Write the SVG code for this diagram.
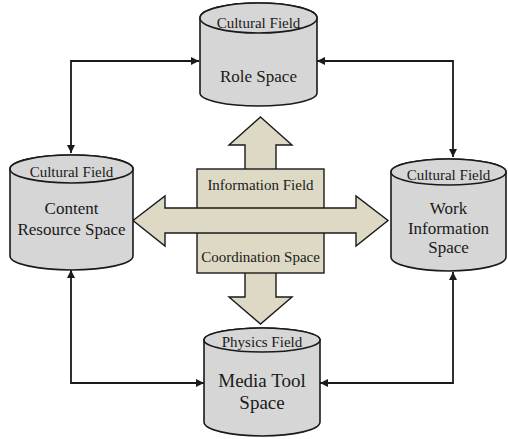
<svg xmlns="http://www.w3.org/2000/svg" width="508" height="439" viewBox="0 0 508 439">
<defs>
<style>
.cyl{fill:#d6d6d6;stroke:#1a1a1a;stroke-width:1.6}
.arr{fill:#ddd9c4;stroke:#1a1a1a;stroke-width:1.4;stroke-linejoin:miter}
.con{fill:none;stroke:#1a1a1a;stroke-width:1.8}
text{font-family:"Liberation Serif","Times New Roman",serif;fill:#1a1a1a;text-anchor:middle}
.s15{font-size:15px}
.s17{font-size:17px}
.s19{font-size:19px}
</style>
<marker id="ah" viewBox="0 0 10 10" refX="10" refY="5" markerWidth="10" markerHeight="8" markerUnits="userSpaceOnUse" orient="auto-start-reverse">
<path d="M0,0 L10,5 L0,10 Z" fill="#1a1a1a"/>
</marker>
</defs>
<g id="connectors">
<path class="con" d="M71,153 V61 H199" marker-start="url(#ah)" marker-end="url(#ah)"/>
<path class="con" d="M317,61 H453 V157" marker-start="url(#ah)" marker-end="url(#ah)"/>
<path class="con" d="M71,270 V383 H204" marker-start="url(#ah)" marker-end="url(#ah)"/>
<path class="con" d="M320,383 H453 V272" marker-start="url(#ah)" marker-end="url(#ah)"/>
</g>
<g id="center-arrows">
<polygon class="arr" points="260.5,117 292,145 276,145 276,171 245,171 245,145 229,145"/>
<polygon class="arr" points="245,271 276,271 276,297 292,297 260.5,324 229,297 245,297"/>
<rect class="arr" x="197" y="169" width="127" height="104"/>
<polygon class="arr" points="133,220.5 165,196 165,208 356,208 356,196 388,220.5 356,246 356,233 165,233 165,246"/>
<text class="s15" x="260.5" y="190">Information Field</text>
<text class="s15" x="260.5" y="262">Coordination Space</text>
</g>
<g id="role-space">
<path class="cyl" d="M200,18 V93 A58.5,13 0 0 0 317,93 V18 A58.5,15 0 0 0 200,18 Z"/>
<ellipse class="cyl" cx="258.5" cy="18" rx="58.5" ry="15"/>
<text class="s15" x="258.5" y="28">Cultural Field</text>
<text class="s17" x="258.5" y="82">Role Space</text>
</g>
<g id="content-resource-space">
<path class="cyl" d="M10,169 V256 A61.5,14 0 0 0 133,256 V169 A61.5,14 0 0 0 10,169 Z"/>
<ellipse class="cyl" cx="71.5" cy="169" rx="61.5" ry="14"/>
<text class="s15" x="71.5" y="177">Cultural Field</text>
<text class="s17" x="71.5" y="214">Content</text>
<text class="s17" x="71.5" y="235">Resource Space</text>
</g>
<g id="work-information-space">
<path class="cyl" d="M391,172 V257 A57.5,14 0 0 0 506,257 V172 A57.5,13 0 0 0 391,172 Z"/>
<ellipse class="cyl" cx="448.5" cy="172" rx="57.5" ry="13"/>
<text class="s15" x="448.5" y="180">Cultural Field</text>
<text class="s17" x="448.5" y="214">Work</text>
<text class="s17" x="448.5" y="234">Information</text>
<text class="s17" x="448.5" y="253">Space</text>
</g>
<g id="media-tool-space">
<path class="cyl" d="M204,340 V422 A58,14 0 0 0 320,422 V340 A58,12 0 0 0 204,340 Z"/>
<ellipse class="cyl" cx="262" cy="340" rx="58" ry="12"/>
<text class="s15" x="262" y="347">Physics Field</text>
<text class="s19" x="262" y="387">Media Tool</text>
<text class="s19" x="262" y="409">Space</text>
</g>
</svg>
